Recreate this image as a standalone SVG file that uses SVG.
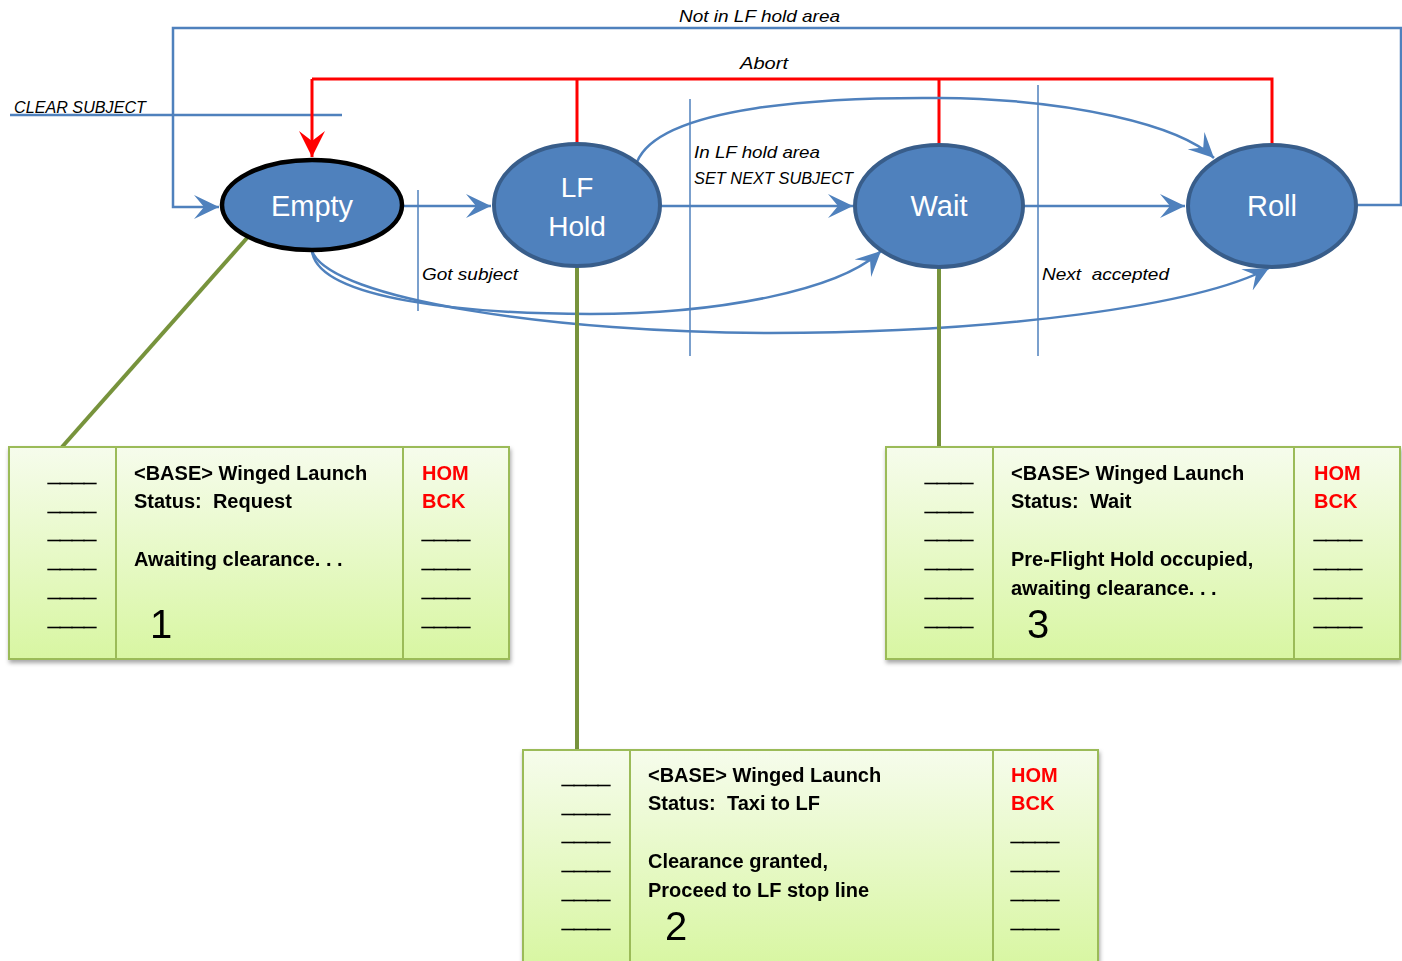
<svg xmlns="http://www.w3.org/2000/svg" width="1402" height="961" viewBox="0 0 1402 961">
<style>
.st{fill:#4F81BD;stroke:#385D8A;stroke-width:4}
.nt{font-family:"Liberation Sans",Arial,sans-serif;font-size:29px;fill:#fff;text-anchor:middle}
.lbl{font-family:"Liberation Sans",Arial,sans-serif;font-size:17px;font-style:italic;fill:#000}
.blue{fill:none;stroke:#4F81BD;stroke-width:2.5}
.thin{fill:none;stroke:#4F81BD;stroke-width:1.5}
.red{fill:none;stroke:#FF0000;stroke-width:3}
.grn{fill:none;stroke:#77933C;stroke-width:4}
.col{fill:url(#pg);stroke:#9BBB59;stroke-width:2}
.pt{font-family:"Liberation Sans",Arial,sans-serif;font-size:20px;font-weight:bold;fill:#000}
.us{stroke:#000;stroke-width:0.8}
.pr{font-family:"Liberation Sans",Arial,sans-serif;font-size:20px;font-weight:bold;fill:#FF0000}
.num{font-family:"Liberation Sans",Arial,sans-serif;font-size:40px;fill:#000}
</style>
<defs>
<linearGradient id="pg" x1="0" y1="0" x2="0" y2="1">
<stop offset="0" stop-color="#F6FCEC"/>
<stop offset="1" stop-color="#D8F6A2"/>
</linearGradient>
<filter id="sh" x="-5%" y="-5%" width="110%" height="115%">
<feDropShadow dx="1" dy="3" stdDeviation="2" flood-color="#000" flood-opacity="0.35"/>
</filter>
<marker id="ab" markerUnits="userSpaceOnUse" markerWidth="26" markerHeight="26" refX="25" refY="12" orient="auto" viewBox="0 0 26 24">
<path d="M0,0 L25,12 L0,24 L10,12 Z" fill="#4F81BD"/>
</marker>
<marker id="ar" markerUnits="userSpaceOnUse" markerWidth="28" markerHeight="28" refX="26" refY="13" orient="auto" viewBox="0 0 28 26">
<path d="M0,0 L26,13 L0,26 L10,13 Z" fill="#FF0000"/>
</marker>
</defs>

<g id="connectors">
<path class="blue" d="M1356,205 L1401,205 L1401,28 L173,28 L173,207 L219,207" marker-end="url(#ab)"/>
<line class="blue" x1="10" y1="115" x2="342" y2="115"/>
<path class="red" d="M577,143 L577,79 M939,145 L939,79 M1272,145 L1272,79 L312,79"/>
<path class="red" d="M312,79 L312,157" marker-end="url(#ar)"/>
<line class="blue" x1="404" y1="206" x2="491" y2="206" marker-end="url(#ab)"/>
<line class="blue" x1="661" y1="206" x2="853" y2="206" marker-end="url(#ab)"/>
<line class="blue" x1="1024" y1="206" x2="1185" y2="206" marker-end="url(#ab)"/>
<path class="blue" d="M637,162 C660,105 830,97 940,98 C1070,99 1180,125 1214,158" marker-end="url(#ab)"/>
<path class="blue" d="M312,251 C318,300 470,314 590,314 C720,314 840,290 881,251" marker-end="url(#ab)"/>
<path class="blue" d="M312,251 C330,300 560,333 770,333 C1000,333 1200,305 1269,268" marker-end="url(#ab)"/>
<line class="thin" x1="418" y1="190" x2="418" y2="311"/>
<line class="thin" x1="690" y1="99" x2="690" y2="356"/>
<line class="thin" x1="1038" y1="85" x2="1038" y2="356"/>
<line class="grn" x1="247" y1="238" x2="62" y2="447"/>
<line class="grn" x1="577" y1="267" x2="577" y2="750"/>
<line class="grn" x1="939" y1="267" x2="939" y2="447"/>
<text class="lbl" x="679" y="22" textLength="161" lengthAdjust="spacingAndGlyphs">Not in LF hold area</text>
<text class="lbl" x="740" y="69" textLength="48" lengthAdjust="spacingAndGlyphs">Abort</text>
<text class="lbl" x="14" y="113" textLength="132" lengthAdjust="spacingAndGlyphs">CLEAR SUBJECT</text>
<text class="lbl" x="694" y="158" textLength="126" lengthAdjust="spacingAndGlyphs">In LF hold area</text>
<text class="lbl" x="694" y="184" textLength="159" lengthAdjust="spacingAndGlyphs">SET NEXT SUBJECT</text>
<text class="lbl" x="422" y="280" textLength="96" lengthAdjust="spacingAndGlyphs">Got subject</text>
<text class="lbl" x="1042" y="280" textLength="127" lengthAdjust="spacingAndGlyphs" xml:space="preserve">Next  accepted</text>
</g>

<g id="node-empty">
<ellipse cx="312" cy="205" rx="90" ry="45" fill="#4F81BD" stroke="#000" stroke-width="4.5"/>
<text class="nt" x="312" y="216">Empty</text>
</g>
<g id="node-lfhold">
<ellipse class="st" cx="577" cy="205" rx="83" ry="61"/>
<text class="nt" x="577" y="197" style="font-size:28px">LF</text>
<text class="nt" x="577" y="236" style="font-size:28px">Hold</text>
</g>
<g id="node-wait">
<ellipse class="st" cx="939" cy="206" rx="84" ry="61"/>
<text class="nt" x="939" y="216">Wait</text>
</g>
<g id="node-roll">
<ellipse class="st" cx="1272" cy="206" rx="84" ry="61"/>
<text class="nt" x="1272" y="216">Roll</text>
</g>

<g id="panel-1" filter="url(#sh)">
<rect class="col" x="9" y="447" width="107" height="212"/>
<rect class="col" x="116" y="447" width="287" height="212"/>
<rect class="col" x="403" y="447" width="106" height="212"/>
<g class="pt">
<g class="us">
<text x="48" y="481" textLength="48" lengthAdjust="spacingAndGlyphs">____</text>
<text x="48" y="510" textLength="48" lengthAdjust="spacingAndGlyphs">____</text>
<text x="48" y="538" textLength="48" lengthAdjust="spacingAndGlyphs">____</text>
<text x="48" y="567" textLength="48" lengthAdjust="spacingAndGlyphs">____</text>
<text x="48" y="596" textLength="48" lengthAdjust="spacingAndGlyphs">____</text>
<text x="48" y="625" textLength="48" lengthAdjust="spacingAndGlyphs">____</text>
<text x="422" y="538" textLength="48" lengthAdjust="spacingAndGlyphs">____</text>
<text x="422" y="567" textLength="48" lengthAdjust="spacingAndGlyphs">____</text>
<text x="422" y="596" textLength="48" lengthAdjust="spacingAndGlyphs">____</text>
<text x="422" y="625" textLength="48" lengthAdjust="spacingAndGlyphs">____</text>
</g>
<text x="134" y="480">&lt;BASE&gt; Winged Launch</text>
<text x="134" y="508" xml:space="preserve">Status:  Request</text>
<text x="134" y="566">Awaiting clearance. . .</text>
</g>
<text class="pr" x="422" y="480">HOM</text>
<text class="pr" x="422" y="508">BCK</text>
<text class="num" x="150" y="638">1</text>
</g>

<g id="panel-3" filter="url(#sh)">
<rect class="col" x="886" y="447" width="107" height="212"/>
<rect class="col" x="993" y="447" width="301" height="212"/>
<rect class="col" x="1294" y="447" width="106" height="212"/>
<g class="pt">
<g class="us">
<text x="925" y="481" textLength="48" lengthAdjust="spacingAndGlyphs">____</text>
<text x="925" y="510" textLength="48" lengthAdjust="spacingAndGlyphs">____</text>
<text x="925" y="538" textLength="48" lengthAdjust="spacingAndGlyphs">____</text>
<text x="925" y="567" textLength="48" lengthAdjust="spacingAndGlyphs">____</text>
<text x="925" y="596" textLength="48" lengthAdjust="spacingAndGlyphs">____</text>
<text x="925" y="625" textLength="48" lengthAdjust="spacingAndGlyphs">____</text>
<text x="1314" y="538" textLength="48" lengthAdjust="spacingAndGlyphs">____</text>
<text x="1314" y="567" textLength="48" lengthAdjust="spacingAndGlyphs">____</text>
<text x="1314" y="596" textLength="48" lengthAdjust="spacingAndGlyphs">____</text>
<text x="1314" y="625" textLength="48" lengthAdjust="spacingAndGlyphs">____</text>
</g>
<text x="1011" y="480">&lt;BASE&gt; Winged Launch</text>
<text x="1011" y="508" xml:space="preserve">Status:  Wait</text>
<text x="1011" y="566">Pre-Flight Hold occupied,</text>
<text x="1011" y="595">awaiting clearance. . .</text>
</g>
<text class="pr" x="1314" y="480">HOM</text>
<text class="pr" x="1314" y="508">BCK</text>
<text class="num" x="1027" y="638">3</text>
</g>

<g id="panel-2" filter="url(#sh)">
<rect class="col" x="523" y="750" width="107" height="215"/>
<rect class="col" x="630" y="750" width="363" height="215"/>
<rect class="col" x="993" y="750" width="105" height="215"/>
<g class="pt">
<g class="us">
<text x="562" y="783" textLength="48" lengthAdjust="spacingAndGlyphs">____</text>
<text x="562" y="812" textLength="48" lengthAdjust="spacingAndGlyphs">____</text>
<text x="562" y="840" textLength="48" lengthAdjust="spacingAndGlyphs">____</text>
<text x="562" y="869" textLength="48" lengthAdjust="spacingAndGlyphs">____</text>
<text x="562" y="898" textLength="48" lengthAdjust="spacingAndGlyphs">____</text>
<text x="562" y="927" textLength="48" lengthAdjust="spacingAndGlyphs">____</text>
<text x="1011" y="840" textLength="48" lengthAdjust="spacingAndGlyphs">____</text>
<text x="1011" y="869" textLength="48" lengthAdjust="spacingAndGlyphs">____</text>
<text x="1011" y="898" textLength="48" lengthAdjust="spacingAndGlyphs">____</text>
<text x="1011" y="927" textLength="48" lengthAdjust="spacingAndGlyphs">____</text>
</g>
<text x="648" y="782">&lt;BASE&gt; Winged Launch</text>
<text x="648" y="810" xml:space="preserve">Status:  Taxi to LF</text>
<text x="648" y="868">Clearance granted,</text>
<text x="648" y="897">Proceed to LF stop line</text>
</g>
<text class="pr" x="1011" y="782">HOM</text>
<text class="pr" x="1011" y="810">BCK</text>
<text class="num" x="665" y="940">2</text>
</g>
</svg>
